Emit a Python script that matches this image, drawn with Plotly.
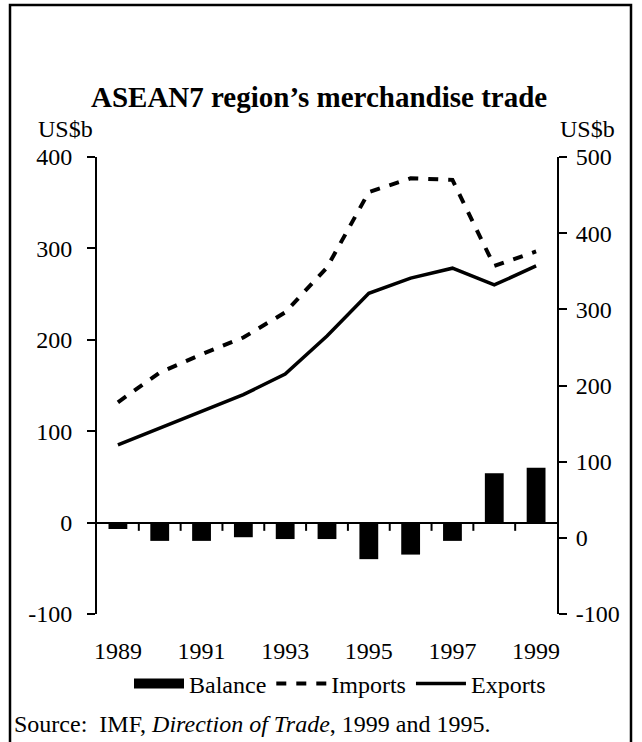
import plotly.graph_objects as go

years = [1989, 1990, 1991, 1992, 1993, 1994, 1995, 1996, 1997, 1998, 1999]
balance = [-7, -20, -20, -16, -18, -18, -40, -35, -20, 54, 60]
imports = [178, 217, 241, 263, 296, 355, 454, 472, 470, 357, 376]
exports = [122, 144, 166, 188, 215, 265, 321, 341, 354, 332, 357]
year_labels = [1989, 1991, 1993, 1995, 1997, 1999]
left_ticks = [-100, 0, 100, 200, 300, 400]
right_ticks = [-100, 0, 100, 200, 300, 400, 500]

font = "Liberation Serif, Times New Roman, serif"

# category boundaries, where the small ticks hang below the zero line
bounds = [y + 0.5 for y in years[:-1]]

fig = go.Figure()
fig.add_trace(go.Bar(x=years, y=balance, marker=dict(color="black", line=dict(width=0)),
                     showlegend=False, yaxis="y", xaxis="x"))
# zero-line tick marks drawn as one-sided error bars
fig.add_trace(go.Scatter(x=bounds, y=[0] * len(bounds), mode="markers",
                         marker=dict(size=1, color="rgba(0,0,0,0)"),
                         error_y=dict(type="data", symmetric=False, array=[0] * len(bounds),
                                      arrayminus=[9] * len(bounds), width=0, thickness=2,
                                      color="black"),
                         showlegend=False, hoverinfo="skip"))
# legend stand-in for the bars (wide black block)
fig.add_trace(go.Scatter(x=[None], y=[None], mode="lines", name="Balance",
                         line=dict(color="black", width=22)))
fig.add_trace(go.Scatter(x=years, y=imports, mode="lines", name="Imports", yaxis="y2",
                         line=dict(color="black", width=4, dash="10px,10px")))
fig.add_trace(go.Scatter(x=years, y=exports, mode="lines", name="Exports", yaxis="y2",
                         line=dict(color="black", width=3.5)))

fig.update_layout(
    width=642, height=742,
    margin=dict(l=97, r=85, t=157, b=128, autoexpand=False),
    paper_bgcolor="white", plot_bgcolor="rgba(0,0,0,0)",
    font=dict(family=font, size=24, color="black"),
    bargap=0.55,
    showlegend=True,
    title=dict(text="<b>ASEAN7 region\u2019s merchandise trade</b>", x=0.497, xanchor="center",
               y=1 - 97 / 742, yanchor="middle", yref="container",
               font=dict(family=font, size=29, color="black")),
    legend=dict(orientation="h", xref="container", yref="container", x=340 / 642,
                xanchor="center", y=1 - 684 / 742, yanchor="middle",
                font=dict(family=font, size=24), itemwidth=50, traceorder="normal",
                bgcolor="rgba(0,0,0,0)", itemclick=False),
    xaxis=dict(range=[1988.5, 1999.5], tickvals=year_labels, showline=False, showgrid=False,
               zeroline=False, ticks="outside", ticklen=15, tickcolor="rgba(0,0,0,0)",
               tickangle=0),
    yaxis=dict(range=[-100, 400], tickvals=left_ticks, ticktext=[str(v) for v in left_ticks],
               showline=True, linewidth=2, ticklabelstandoff=10,
               linecolor="black", ticks="outside", ticklen=8, tickwidth=2, tickcolor="black",
               showgrid=False, zeroline=True, zerolinecolor="black", zerolinewidth=2),
    yaxis2=dict(range=[-100, 500], tickvals=right_ticks, ticktext=[str(v) for v in right_ticks],
                overlaying="y", side="right", ticklabelstandoff=4,
                showline=True, linewidth=2, linecolor="black", ticks="outside", ticklen=8,
                tickwidth=2, tickcolor="black", showgrid=False, zeroline=False),
    annotations=[
        dict(text="US$b", xref="paper", yref="paper", x=(65 - 97) / 460, y=(614 - 129) / 457,
             xanchor="center", yanchor="middle", showarrow=False, font=dict(size=24)),
        dict(text="US$b", xref="paper", yref="paper", x=(587 - 97) / 460, y=(614 - 129) / 457,
             xanchor="center", yanchor="middle", showarrow=False, font=dict(size=24)),
        dict(text="Source:  IMF, <i>Direction of Trade</i>, 1999 and 1995.", xref="paper",
             yref="paper", x=(12 - 97) / 460, y=(614 - 724) / 457, xanchor="left",
             yanchor="middle", showarrow=False, font=dict(size=24)),
    ],
    shapes=[
        dict(type="rect", xref="paper", yref="paper", x0=(10 - 97) / 460, x1=(631 - 97) / 460,
             y0=-0.5, y1=(614 - 5) / 457, line=dict(color="black", width=2.5),
             fillcolor="rgba(0,0,0,0)", layer="below"),
    ],
)

fig.write_html("out.html", config={"displayModeBar": False},
               post_script="document.body.style.margin='0';")
